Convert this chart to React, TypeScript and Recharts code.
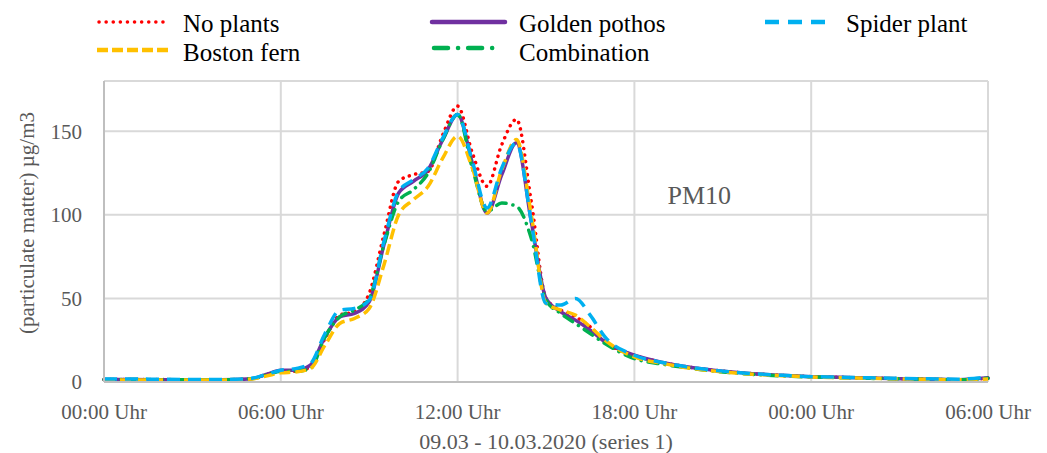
import React from 'react';
import { LineChart, Line, XAxis, YAxis, CartesianGrid, Legend, ReferenceDot } from 'recharts';

// Hours since 09.03.2020 00:00
const hours = [
  0, 1, 2, 3, 4, 5,
  5.5, 6, 6.5, 7, 7.5, 8, 8.5, 9, 9.5, 10,
  10.5, 11, 11.5, 12, 12.5, 13, 13.5, 14, 14.5, 15,
  15.5, 16, 16.5, 17,
  18, 19, 20, 21, 22, 23, 24, 25, 26, 27, 28, 29, 30,
];

// PM10 concentration, µg/m3
const noPlants = [
  1.5, 1.5, 1.5, 1.3, 1.3, 2,
  4.5, 6.5, 6.5, 9, 26, 40, 42, 53, 88, 120,
  124, 126, 148, 165, 137, 117, 142, 157, 108, 50,
  43, 39, 33, 24,
  16, 11.5, 8.5, 6.5, 5, 4, 3.2, 2.8, 2.4, 2, 1.7, 1.4, 2.3,
];
const goldenPothos = [
  1.5, 1.5, 1.3, 1.3, 1.3, 2,
  4.5, 7, 7, 10, 27, 39, 41, 48, 82, 113,
  120, 127, 145, 160, 131, 101, 124, 143, 96, 50,
  42, 37, 31, 24,
  16, 11.5, 8.5, 6.5, 5, 4, 3.2, 2.8, 2.4, 2, 1.7, 1.4, 2.5,
];
const spiderPlant = [
  1.8, 1.8, 1.6, 1.5, 1.5, 2.2,
  4.5, 7, 8, 11, 29, 43, 44, 49, 84, 114,
  121, 128, 146, 160, 132, 104, 128, 143, 96, 47,
  46, 50, 40, 27,
  16, 11.5, 8.5, 6.5, 5, 4, 3.2, 2.9, 2.5, 2.2, 1.9, 1.7, 3,
];
const bostonFern = [
  1.2, 1.2, 1.2, 1.2, 1.2, 1.8,
  3.5, 5.5, 6, 8, 22, 35, 38, 44, 70, 100,
  109, 117, 134, 147, 128, 101, 127, 145, 100, 47,
  43, 40, 33, 25,
  15, 11, 8, 6, 4.7, 3.8, 3, 2.6, 2.2, 1.9, 1.6, 1.3, 1.8,
];
const combination = [
  1.5, 1.5, 1.3, 1.3, 1.3, 2,
  4, 6.5, 6.5, 8, 27, 39, 43, 50, 82, 108,
  115, 125, 145, 160, 128, 102, 107, 105, 86, 49,
  41, 35, 29, 23,
  14, 10.5, 8, 6, 4.6, 3.7, 3, 2.6, 2.2, 1.9, 1.6, 1.3, 2.3,
];

const xTicks = [0, 6, 12, 18, 24, 30];
const xTickLabels = ['00:00 Uhr', '06:00 Uhr', '12:00 Uhr', '18:00 Uhr', '00:00 Uhr', '06:00 Uhr'];
const yTicks = [0, 50, 100, 150];

const data = hours.map((h, i) => ({
  hour: h,
  noPlants: noPlants[i],
  goldenPothos: goldenPothos[i],
  spiderPlant: spiderPlant[i],
  bostonFern: bostonFern[i],
  combination: combination[i],
}));

const FONT = "'Liberation Serif', 'Times New Roman', serif";
const TEXT = '#595959';

type SeriesStyle = {
  key: string;
  name: string;
  color: string;
  dash?: string;
  cap: 'round' | 'butt';
  legendDash?: string;
};

// draw order: later entries sit on top
const series: SeriesStyle[] = [
  { key: 'noPlants', name: 'No plants', color: '#ff0000', dash: '0.1 6.5', cap: 'round', legendDash: '0.1 7' },
  { key: 'goldenPothos', name: 'Golden pothos', color: '#7030a0', cap: 'round' },
  { key: 'combination', name: 'Combination', color: '#00b050', dash: '10 7 0.1 7', cap: 'round', legendDash: '14 10 0.1 10' },
  { key: 'bostonFern', name: 'Boston fern', color: '#ffc000', dash: '11 5', cap: 'butt', legendDash: '11 4' },
  { key: 'spiderPlant', name: 'Spider plant', color: '#00b0f0', dash: '13 8', cap: 'butt', legendDash: '14 9' },
];

const byKey = (k: string) => series.find((s) => s.key === k)!;

const legendLayout = [
  { key: 'noPlants', x: 99, y: 22, len: 71, tx: 183, ty: 23 },
  { key: 'goldenPothos', x: 432, y: 22, len: 73, tx: 519, ty: 23 },
  { key: 'spiderPlant', x: 765, y: 22, len: 65, tx: 846, ty: 23 },
  { key: 'bostonFern', x: 97, y: 50, len: 73, tx: 183, ty: 52 },
  { key: 'combination', x: 434, y: 48, len: 62, tx: 519, ty: 52 },
];

const LegendContent = () => (
  <svg width={1047} height={70} style={{ display: 'block' }}>
    {legendLayout.map((l) => {
      const s = byKey(l.key);
      return (
        <g key={l.key}>
          <line
            x1={l.x}
            x2={l.x + l.len}
            y1={l.y}
            y2={l.y}
            stroke={s.color}
            strokeWidth={s.key === 'noPlants' ? 3.5 : 4.5}
            strokeDasharray={s.legendDash}
            strokeLinecap={s.cap}
          />
          <text x={l.tx} y={l.ty} fontFamily={FONT} fontSize={25} fill="#000" dominantBaseline="central">
            {s.name}
          </text>
        </g>
      );
    })}
  </svg>
);

export default function App() {
  return (
    <div style={{ position: 'absolute', left: 0, top: 0, background: '#fff' }}>
      <LineChart
        width={1047}
        height={453}
        data={data}
        margin={{ top: 81, right: 59, bottom: 0, left: 0 }}
        style={{ fontFamily: FONT }}
      >
        <CartesianGrid stroke="#d9d9d9" strokeWidth={2} />
        <XAxis
          dataKey="hour"
          type="number"
          domain={[0, 30]}
          ticks={xTicks}
          interval={0}
          height={71}
          tickLine={false}
          tickSize={0}
          tickMargin={22}
          axisLine={{ stroke: '#bfbfbf', strokeWidth: 2 }}
          tick={{ fill: TEXT, fontSize: 21, fontFamily: FONT }}
          tickFormatter={(v: number) => xTickLabels[xTicks.indexOf(v)]}
          label={{
            content: () => (
              <text x={546} y={441} textAnchor="middle" dominantBaseline="central" fontSize={22} fill={TEXT} fontFamily={FONT}>
                09.03 - 10.03.2020 (series 1)
              </text>
            ),
          }}
        />
        <YAxis
          type="number"
          domain={[0, 180]}
          ticks={yTicks}
          width={104}
          tickLine={false}
          tickSize={0}
          tickMargin={22}
          axisLine={{ stroke: '#bfbfbf', strokeWidth: 2 }}
          tick={{ fill: TEXT, fontSize: 21, fontFamily: FONT }}
          label={{
            content: () => (
              <text
                x={27}
                y={223}
                transform="rotate(-90 27 223)"
                textAnchor="middle"
                dominantBaseline="central"
                fontSize={21}
                fill={TEXT}
                fontFamily={FONT}
              >
                (particulate matter) µg/m3
              </text>
            ),
          }}
        />
        <Legend
          layout="horizontal"
          verticalAlign="middle"
          align="center"
          wrapperStyle={{ top: 0, left: 0, width: 1047, height: 70 }}
          content={<LegendContent />}
        />
        {series.map((s) => (
          <Line
            key={s.key}
            type="monotone"
            dataKey={s.key}
            name={s.name}
            stroke={s.color}
            strokeWidth={3.5}
            strokeDasharray={s.dash}
            strokeLinecap={s.cap}
            dot={false}
            activeDot={false}
            isAnimationActive={false}
          />
        ))}
        <ReferenceDot
          x={20.2}
          y={112}
          r={0}
          fill="none"
          stroke="none"
          label={{ value: 'PM10', position: 'center', fontSize: 26, fill: TEXT, fontFamily: FONT }}
        />
      </LineChart>
    </div>
  );
}
